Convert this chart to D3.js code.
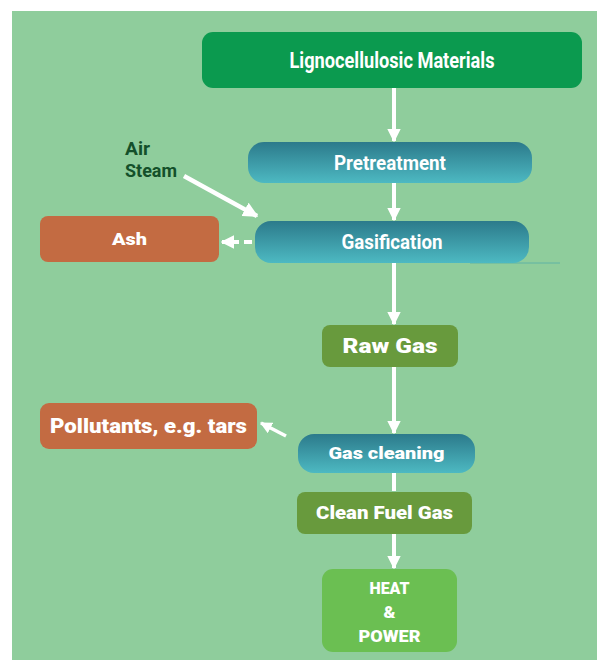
<!DOCTYPE html>
<html>
<head>
<meta charset="utf-8">
<script src="https://cdn.jsdelivr.net/npm/d3@7"></script>
<style>
  body { margin: 0; background: #fff; }
  svg { display: block; }
</style>
</head>
<body>
<svg id="chart"></svg>
<script>
// flow steps (labels) and what kind of box each one is
var steps = ["Lignocellulosic Materials", "Pretreatment", "Gasification", "Raw Gas",
             "Gas cleaning", "Clean Fuel Gas", "HEAT\n&\nPOWER"];
var stepKinds = ["feed", "process", "process", "gas", "process", "gas", "product"];
var sideOutputs = ["Ash", "Pollutants, e.g. tars"];
var sideFrom = ["Gasification", "Gas cleaning"];
var inputs = ["Air", "Steam"];

var width = 597, height = 660;

// box geometry + text widths, kept apart from the labels
var layout = {
  "Lignocellulosic Materials": {x0: 202, x1: 582, y0: 32, y1: 88, r: 11, fs: 22, tw: [205], w: 700},
  "Pretreatment": {x0: 248, x1: 532, y0: 142, y1: 183, r: 16, fs: 20, tw: [112], w: 700},
  "Gasification": {x0: 255, x1: 529, y0: 221, y1: 263, r: 16, fs: 20, tw: [101], w: 700},
  "Raw Gas": {x0: 322, x1: 458, y0: 325, y1: 367, r: 8, fs: 21, tw: [95], w: 900},
  "Gas cleaning": {x0: 298, x1: 475, y0: 434, y1: 473, r: 16, fs: 17, tw: [116], w: 900},
  "Clean Fuel Gas": {x0: 297, x1: 472, y0: 492, y1: 534, r: 8, fs: 18, tw: [137], w: 900},
  "HEAT\n&\nPOWER": {x0: 322, x1: 457, y0: 569, y1: 652, r: 11, fs: 17, tw: [40, 12, 62], lh: 24, mid: 612, w: 900},
  "Ash": {x0: 40, x1: 219, y0: 216, y1: 262, r: 8, fs: 16, tw: [35], w: 900},
  "Pollutants, e.g. tars": {x0: 40, x1: 257, y0: 403, y1: 449, r: 9, fs: 21, tw: [197], w: 900}
};

var fills = {
  feed: "#0b9a4f",
  process: "url(#teal)",
  gas: "#689a3d",
  product: "#6bbf52",
  waste: "#c36b42"
};

var svg = d3.select("#chart").attr("width", width).attr("height", height);

var defs = svg.append("defs");
var grad = defs.append("linearGradient").attr("id", "teal")
  .attr("x1", 0).attr("y1", 0).attr("x2", 0).attr("y2", 1);
grad.append("stop").attr("offset", "0%").attr("stop-color", "#2c7a8b");
grad.append("stop").attr("offset", "100%").attr("stop-color", "#4db9c2");

defs.append("marker").attr("id", "head")
  .attr("viewBox", "0 0 10 10")
  .attr("refX", 9).attr("refY", 5)
  .attr("markerWidth", 3.4).attr("markerHeight", 3.4)
  .attr("markerUnits", "strokeWidth")
  .attr("orient", "auto")
  .append("path").attr("d", "M0,0 L10,5 L0,10 Z").attr("fill", "#fff");

// background panel
svg.append("rect").attr("x", 12).attr("y", 11)
  .attr("width", width - 12).attr("height", height - 11)
  .attr("fill", "#8fcd9c");

var cx = 394;
var line = d3.line();

// main vertical arrows
var links = d3.pairs(steps);
svg.selectAll("path.main")
  .data(links)
  .enter()
  .append("path")
  .attr("class", "main")
  .attr("d", function(d) {
    return line([[cx, layout[d[0]].y1], [cx, layout[d[1]].y0 - 1]]);
  })
  .attr("stroke", "#fff")
  .attr("stroke-width", 4)
  .attr("fill", "none")
  .attr("marker-end", function(d) {
    return d[0] == "Gas cleaning" ? null : "url(#head)";
  });

// air/steam into gasification
svg.append("path")
  .attr("d", line([[184, 176], [257, 216]]))
  .attr("stroke", "#fff").attr("stroke-width", 4.5).attr("fill", "none")
  .attr("marker-end", "url(#head)");

// ash (dashed) and pollutants
svg.append("path")
  .attr("d", line([[layout["Gasification"].x0 - 3, 242], [layout["Ash"].x1 + 3, 242]]))
  .attr("stroke", "#fff").attr("stroke-width", 4).attr("fill", "none")
  .attr("stroke-dasharray", "8,5")
  .attr("marker-end", "url(#head)");
svg.append("path")
  .attr("d", line([[286, 436], [261, 423]]))
  .attr("stroke", "#fff").attr("stroke-width", 3.5).attr("fill", "none")
  .attr("marker-end", "url(#head)");

// faint line under gasification
svg.append("line")
  .attr("x1", 470).attr("x2", 560).attr("y1", 263).attr("y2", 263)
  .attr("stroke", "#4aa9a8").attr("stroke-width", 1).attr("opacity", 0.7);

var boxes = steps.map(function(s, i) { return {label: s, kind: stepKinds[i]}; })
  .concat(sideOutputs.map(function(s) { return {label: s, kind: "waste"}; }));

var g = svg.selectAll("g.box")
  .data(boxes)
  .enter()
  .append("g")
  .attr("class", "box");

g.append("rect")
  .attr("x", function(d) { return layout[d.label].x0; })
  .attr("y", function(d) { return layout[d.label].y0; })
  .attr("width", function(d) { return layout[d.label].x1 - layout[d.label].x0; })
  .attr("height", function(d) { return layout[d.label].y1 - layout[d.label].y0; })
  .attr("rx", function(d) { return layout[d.label].r; })
  .attr("fill", function(d) { return fills[d.kind]; });

g.each(function(d) {
  var L = layout[d.label];
  var lines = d.label.split("\n");
  var mid = L.mid || (L.y0 + L.y1) / 2;
  var lh = L.lh || L.fs * 1.2;
  var sel = d3.select(this);
  lines.forEach(function(s, i) {
    sel.append("text")
      .attr("text-anchor", "middle")
      .attr("fill", "#fff")
      .attr("font-weight", L.w)
      .attr("font-size", L.fs + "px")
      .attr("font-family", "Roboto, sans-serif")
      .attr("x", (L.x0 + L.x1) / 2)
      .attr("y", mid + (i - (lines.length - 1) / 2) * lh)
      .attr("dy", "0.35em")
      .attr("textLength", L.tw[i])
      .attr("lengthAdjust", "spacingAndGlyphs")
      .text(s);
  });
});

// Air / Steam label
var inputW = [25, 52];
svg.selectAll("text.input")
  .data(inputs)
  .enter()
  .append("text")
  .attr("class", "input")
  .attr("font-family", "Roboto, sans-serif")
  .attr("font-weight", "bold")
  .attr("font-size", "18px")
  .attr("fill", "#14502a")
  .attr("x", 125)
  .attr("y", function(d, i) { return 155 + i * 22; })
  .attr("textLength", function(d, i) { return inputW[i]; })
  .attr("lengthAdjust", "spacingAndGlyphs")
  .text(function(d) { return d; });
</script>
</body>
</html>
